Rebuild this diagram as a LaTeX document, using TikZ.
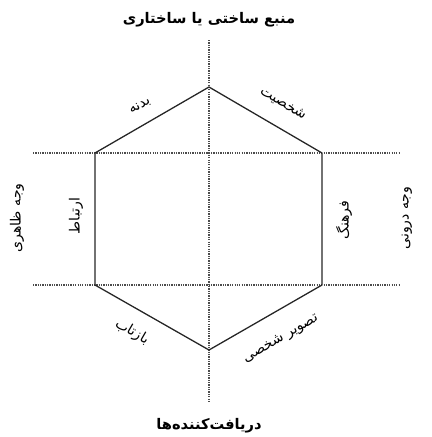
\documentclass[tikz,border=0pt]{standalone}
\usepackage{fontspec}
\newfontfamily\arabicfont[Script=Arabic]{DejaVu Sans}
\TeXXeTstate=1

\begin{document}
\begin{tikzpicture}[
    x=0.03cm, y=-0.03cm,
    hexline/.style={line width=1.1pt, black!85},
    axis/.style={dash pattern=on 1.1pt off 0.9pt, line width=0.9pt, black!70},
    sidelabel/.style={font=\arabicfont\fontsize{12}{14}\selectfont, inner sep=1pt},
    axlabel/.style={font=\arabicfont\fontsize{12.5}{15}\selectfont\bfseries, inner sep=1pt},
]
\useasboundingbox (0,0) rectangle (432,437);

% === HEXAGON corners ===
\coordinate (top) at (209,87);
\coordinate (ur) at (322,153);
\coordinate (lr) at (322,285);
\coordinate (bot) at (209,350);
\coordinate (ll) at (95,285);
\coordinate (ul) at (95,153);

% Axes ends
\coordinate (vtop) at (209,40);
\coordinate (vbot) at (209,403);
\coordinate (hul) at (33,153);
\coordinate (hur) at (400,153);
\coordinate (hll) at (33,285);
\coordinate (hlr) at (400,285);

% Dotted axes
\draw[axis] (vtop) -- (vbot);
\draw[axis] (hul) -- (hur);
\draw[axis] (hll) -- (hlr);

% Hexagon
\draw[hexline] (top) -- (ur) -- (lr) -- (bot) -- (ll) -- (ul) -- cycle;

% Axis labels
\node[axlabel] (source) at (209,20) {\beginR منبع ساختی یا ساختاری\endR};
\node[axlabel] (receivers) at (209,426) {\beginR دریافت‌کننده‌ها\endR};
\node[sidelabel, rotate=90] (outer) at (17,218) {\beginR وجه ظاهری\endR};
\node[sidelabel, rotate=90] (inner) at (407,218) {\beginR وجه درونی\endR};

% Side labels
\node[sidelabel, rotate=30] (body) at (140,106) {\beginR بدنه\endR};
\node[sidelabel, rotate=-30] (persona) at (283,104) {\beginR شخصیت\endR};
\node[sidelabel, rotate=90] (relation) at (76,216) {\beginR ارتباط\endR};
\node[sidelabel, rotate=90] (culture) at (344,220) {\beginR فرهنگ\endR};
\node[sidelabel, rotate=-30] (reflect) at (132,332) {\beginR بازتاب\endR};
\node[sidelabel, rotate=30] (selfimage) at (281,339) {\beginR تصویر شخصی\endR};

\end{tikzpicture}
\end{document}
